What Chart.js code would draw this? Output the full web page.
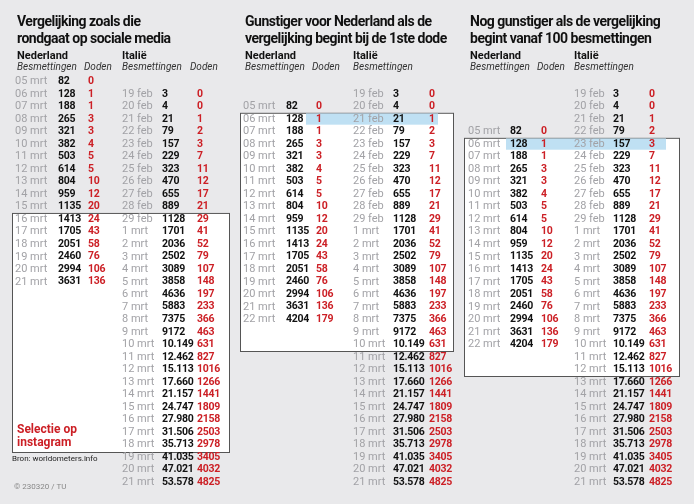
<!DOCTYPE html>
<html><head><meta charset="utf-8">
<script src="https://cdn.jsdelivr.net/npm/chart.js@4"></script>
<style>html,body{margin:0;padding:0;background:#e9e9eb}#w{width:694px;height:504px}</style>
</head><body><div id="w"><canvas id="c"></canvas></div>
<script>
// ---- data ----
const nlDates = ["05 mrt","06 mrt","07 mrt","08 mrt","09 mrt","10 mrt","11 mrt","12 mrt","13 mrt","14 mrt","15 mrt","16 mrt","17 mrt","18 mrt","19 mrt","20 mrt","21 mrt","22 mrt"];
const nlCases = [82,128,188,265,321,382,503,614,804,959,1135,1413,1705,2051,2460,2994,3631,4204];
const nlDeaths = [0,1,1,3,3,4,5,5,10,12,20,24,43,58,76,106,136,179];
const itDates = ["19 feb","20 feb","21 feb","22 feb","23 feb","24 feb","25 feb","26 feb","27 feb","28 feb","29 feb","1 mrt","2 mrt","3 mrt","4 mrt","5 mrt","6 mrt","7 mrt","8 mrt","9 mrt","10 mrt","11 mrt","12 mrt","13 mrt","14 mrt","15 mrt","16 mrt","17 mrt","18 mrt","19 mrt","20 mrt","21 mrt"];
const itCases = [3,4,21,79,157,229,323,470,655,889,1128,1701,2036,2502,3089,3858,4636,5883,7375,9172,10149,12462,15113,17660,21157,24747,27980,31506,35713,41035,47021,53578];
const itDeaths = [0,0,1,2,3,7,11,12,17,21,29,41,52,79,107,148,197,233,366,463,631,827,1016,1266,1441,1809,2158,2503,2978,3405,4032,4825];
const titles = [["Vergelijking zoals die","rondgaat op sociale media"],["Gunstiger voor Nederland als de","vergelijking begint bij de 1ste dode"],["Nog gunstiger als de vergelijking","begint vanaf 100 besmettingen"]];
const nlRowOffset = [-1, 1, 3];   // row of NL "05 mrt" relative to Italy "19 feb"
const nlCount = [17, 18, 18];

// ---- layout ----
const panels = [
  {x:[15,58,88], ix:[122,162,197], box:[12,229,9.5,null,452], hl:null, itDoden:true},
  {x:[243,286,316], ix:[353,393,429], box:[240,453,1.5,null,351], hl:[306,438]},
  {x:[468,510,541], ix:[574,613,649], box:[464,679,3.5,null,376], hl:[506,666]}
];
const fmt = v => v >= 10000 ? String(v).replace(/(\d)(?=(\d{3})+$)/g,'$1.') : String(v);
const GRAY='#a2a2a6', RED='#cc1f25', BLK='#111';
const datasets = [];
function col(labels, x, rows, color, bold){
  datasets.push({data: rows.map(r=>({x, y:r})), labels, color, bold, pointRadius:0, showLine:false});
}
panels.forEach((p,pi)=>{
  const n = nlCount[pi], off = nlRowOffset[pi];
  const rows = Array.from({length:n},(_,i)=>i+off);
  col(nlDates.slice(0,n), p.x[0], rows, GRAY, false);
  col(nlCases.slice(0,n).map(fmt), p.x[1], rows, BLK, true);
  col(nlDeaths.slice(0,n).map(String), p.x[2], rows, RED, true);
  const ir = itDates.map((_,i)=>i);
  col(itDates, p.ix[0], ir, GRAY, false);
  col(itCases.map(fmt), p.ix[1], ir, BLK, true);
  col(itDeaths.map(String), p.ix[2], ir, RED, true);
});
const ROW0 = 94, RH = 12.52;
const FF = 'Roboto, "Liberation Sans", sans-serif';

const textPlugin = {
  id:'txt',
  beforeDatasetsDraw(chart){
    const {ctx, scales:{x,y}} = chart;
    ctx.save();
    panels.forEach((p,pi)=>{
      const x0=x.getPixelForValue(p.box[0]), x1=x.getPixelForValue(p.box[1]);
      const y0=y.getPixelForValue(p.box[2]), y1=p.box[4];
      ctx.fillStyle='#fff'; ctx.fillRect(x0,y0,x1-x0,y1-y0);
      ctx.strokeStyle='#555'; ctx.lineWidth=1; ctx.strokeRect(x0+0.5,y0+0.5,x1-x0,y1-y0);
      if(p.hl){
        const r = nlRowOffset[pi]+1;
        ctx.fillStyle='#bfe0f3';
        ctx.fillRect(x.getPixelForValue(p.hl[0]), y.getPixelForValue(r-0.45), p.hl[1]-p.hl[0], RH*0.9);
      }
      const tx = p.x[0]+2;
      ctx.fillStyle='#111'; ctx.textBaseline='alphabetic'; ctx.textAlign='left';
      ctx.font='bold 14px '+FF;
      ctx.letterSpacing='-0.5px';
      titles[pi].forEach((t,i)=>ctx.fillText(t, tx, 26+i*17));
      ctx.letterSpacing='0px';
      ctx.font='bold 11px '+FF;
      ctx.fillText('Nederland', tx, 59);
      ctx.fillText('Italië', p.ix[0], 59);
      ctx.font='italic 10px '+FF; ctx.fillStyle='#333';
      ctx.fillText('Besmettingen', tx, 70);
      ctx.fillText('Doden', p.x[2]-4, 70);
      ctx.fillText('Besmettingen', p.ix[0], 70);
      if(p.itDoden) ctx.fillText('Doden', p.ix[2]-7, 70);
    });
    ctx.font='bold 12px '+FF; ctx.fillStyle=RED;
    ctx.fillText('Selectie op', 17, 433); ctx.fillText('instagram', 17, 446);
    ctx.font='8px '+FF; ctx.fillStyle='#222';
    ctx.fillText('Bron: worldometers.info', 12, 461);
    ctx.fillStyle='#888';
    ctx.fillText('© 230320 / TU', 14, 489);
    ctx.restore();
  },
  afterDatasetsDraw(chart){
    const ctx = chart.ctx;
    ctx.save(); ctx.textBaseline='middle'; ctx.textAlign='left';
    chart.data.datasets.forEach((ds,di)=>{
      const meta = chart.getDatasetMeta(di);
      ctx.fillStyle = ds.color;
      ctx.font = (ds.bold?'bold 10.5px ':'11px ')+FF;
      ctx.letterSpacing = ds.bold ? '-0.3px' : '0px';
      meta.data.forEach((pt,i)=>ctx.fillText(ds.labels[i], pt.x, pt.y));
    });
    ctx.restore();
  }
};

new Chart(document.getElementById('c'), {
  type:'scatter',
  data:{datasets},
  options:{
    responsive:true, maintainAspectRatio:false, animation:false,
    layout:{padding:0},
    plugins:{legend:{display:false}, tooltip:{enabled:false}},
    scales:{
      x:{type:'linear', min:0, max:694, display:false},
      y:{type:'linear', reverse:true, min:-ROW0/RH, max:(504-ROW0)/RH, display:false}
    }
  },
  plugins:[textPlugin]
});
</script></body></html>
